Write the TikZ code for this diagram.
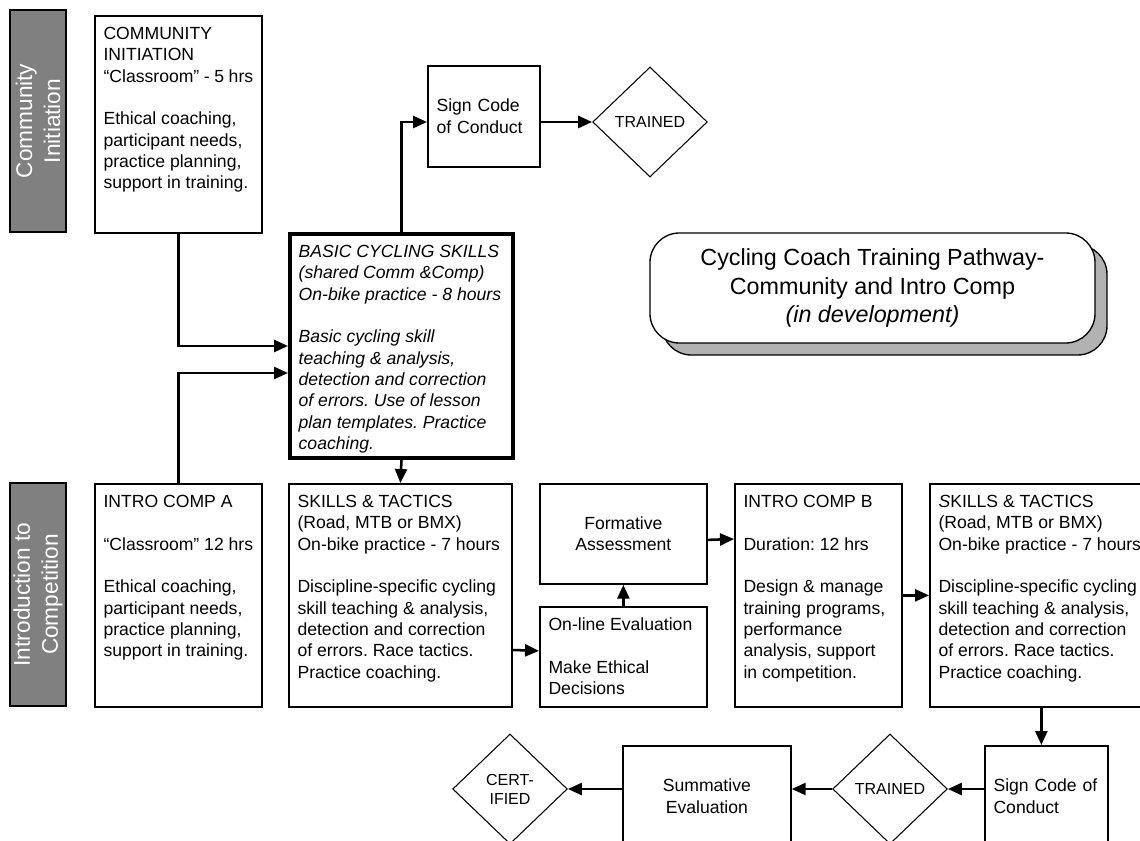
\documentclass[tikz,border=0pt]{standalone}
\usepackage{fontspec}
\setmainfont{Liberation Sans}
\usetikzlibrary{arrows.meta,shapes.geometric,calc}
\frenchspacing

\newcommand{\stagefont}{\fontsize{13.2}{16}\selectfont}
\newcommand{\tagfont}{\fontsize{12}{14.2}\selectfont}

\tikzset{every picture/.style={line width=0.75pt}}
\tikzset{
  stage/.style={draw, line width=1.3pt, anchor=north west, inner xsep=6.5pt, inner ysep=8.5pt, align=left, font=\stagefont},
  signbox/.style={draw, line width=1.3pt, anchor=north west, inner xsep=6.5pt, align=left, font=\stagefont},
  midbox/.style={draw, line width=1.3pt, anchor=north west, align=center, font=\stagefont},
  band/.style={draw, line width=1.3pt, fill={rgb,255:red,128;green,128;blue,128}, text=white, rotate=90, align=center, minimum width=167pt, minimum height=42pt, inner sep=0pt, font=\fontsize{17}{21}\selectfont},
  gate/.style={diamond, draw, line width=0.8pt, minimum width=86pt, minimum height=82.5pt, inner sep=0pt, align=center, font=\tagfont},
  conn/.style={line width=1.9pt, -{Triangle[length=10.5pt,width=9pt]}},
}

\begin{document}
\begin{tikzpicture}[x=0.75pt,y=0.75pt,yscale=-1,xscale=1]
	\useasboundingbox (0,0) rectangle (1140,841);
	\clip (0,0) rectangle (1140,841);

	%side bands
	\node[band] (bandComm) at (38,121) {Community\\Initiation};
	\node[band] (bandComp) at (38,594.5) {Introduction to\\Competition};

	%community row
	\node[stage] (commInit) at (94,15) {\parbox[t][145.75pt][t]{112.25pt}{\raggedright COMMUNITY\\INITIATION\\“Classroom” - 5 hrs\\[16pt]Ethical coaching,\\participant needs,\\practice planning,\\support in training.}};
	\node[stage, line width=3pt] (basicSkills) at (288,232) {\parbox[t][151pt][t]{154.25pt}{\raggedright\itshape BASIC CYCLING SKILLS\\(shared Comm \&Comp)\\On-bike practice - 8 hours\\[16pt]Basic cycling skill\\teaching \& analysis,\\detection and correction\\of errors. Use of lesson\\plan templates. Practice\\coaching.}};
	\node[signbox, text width=71pt, minimum height=75.75pt] (signTop) at (427,65) {Sign Code\\of Conduct};
	\node[gate] (trainedTop) at (650,122) {TRAINED};

	%title with shadow
	\draw[line width=1pt, rounded corners=22pt, fill={rgb,255:red,178;green,178;blue,178}] (662,245) rectangle (1107,355);
	\node[draw, line width=1pt, rounded corners=22pt, fill=white, minimum width=333.75pt, minimum height=82.5pt, align=center, font=\fontsize{17.5}{21.4}\selectfont] (pathway) at (872.5,288) {Cycling Coach Training Pathway-\\Community and Intro Comp\\\textit{(in development)}};

	%competition row
	\node[stage] (introA) at (94,483) {\parbox[t][150.25pt][t]{112.25pt}{\raggedright INTRO COMP A\\[16pt]“Classroom” 12 hrs\\[16pt]Ethical coaching,\\participant needs,\\practice planning,\\support in training.}};
	\node[stage] (skillsA) at (288,483) {\parbox[t][150.25pt][t]{154.25pt}{\raggedright SKILLS \& TACTICS\\(Road, MTB or BMX)\\On-bike practice - 7 hours\\[16pt]Discipline-specific cycling\\skill teaching \& analysis,\\detection and correction\\of errors. Race tactics.\\Practice coaching.}};
	\node[midbox, minimum width=125.25pt, minimum height=75pt] (formative) at (539,483) {Formative\\Assessment};
	\node[stage] (online) at (539,606) {\parbox[t][58pt][t]{112.25pt}{\raggedright On-line Evaluation\\[16pt]Make Ethical\\Decisions}};
	\node[stage] (introB) at (734,483) {\parbox[t][150.25pt][t]{112.25pt}{\raggedright INTRO COMP B\\[16pt]Duration: 12 hrs\\[16pt]Design \& manage\\training programs,\\performance\\analysis, support\\in competition.}};
	\node[stage] (skillsB) at (929,483) {\parbox[t][150.25pt][t]{154.25pt}{\raggedright \textit{S}KILLS \& TACTICS\\(Road, MTB or BMX)\\On-bike practice - 7 hours\\[16pt]Discipline-specific cycling\\skill teaching \& analysis,\\detection and correction\\of errors. Race tactics.\\Practice coaching.}};

	%certification row
	\node[signbox, text width=79.25pt, minimum height=75.75pt] (signBottom) at (984,745) {Sign Code of\\Conduct};
	\node[gate] (trainedBottom) at (890,789) {TRAINED};
	\node[midbox, minimum width=126pt, minimum height=75.75pt] (summative) at (622,745) {Summative\\Evaluation};
	\node[gate] (certified) at (510,789) {CERT-\\IFIED};

	%connectors
	\draw[conn] (commInit.south) |- (basicSkills.west);
	\draw[conn] (introA.north) |- ($(basicSkills.west)+(0,27)$);
	\draw[conn] (basicSkills.north) |- (signTop.west |- trainedTop.west);
	\draw[conn] (signTop.east |- trainedTop.west) -- (trainedTop.west);
	\draw[conn] (basicSkills.south) -- (skillsA.north);
	\draw[conn] (skillsA.east |- 0,650) -- ($(online.west)+(0,-6)$);
	\draw[conn] (online.north) -- (formative.south);
	\draw[conn] ($(formative.east)+(0,6)$) -- (introB.west |- 0,539);
	\draw[conn] (introB.east) -- (skillsB.west |- introB.east);
	\draw[conn] (skillsB.south) -- (skillsB.south |- signBottom.north);
	\draw[conn] (signBottom.west |- trainedBottom.east) -- (trainedBottom.east);
	\draw[conn] (trainedBottom.west) -- (summative.east |- trainedBottom.west);
	\draw[conn] (summative.west |- certified.east) -- (certified.east);

\end{tikzpicture}
\end{document}
